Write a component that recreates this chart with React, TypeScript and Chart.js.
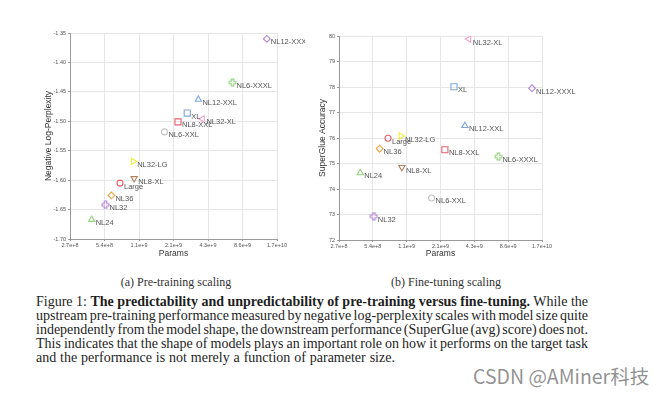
import React, { useEffect, useRef } from 'react';
import { Chart, registerables } from 'chart.js';

Chart.register(...registerables);

// ---------------- data ----------------
const models = ['NL12-XXXL', 'NL6-XXXL', 'NL12-XXL', 'XL', 'NL32-XL', 'NL8-XXL', 'NL6-XXL', 'NL32-LG', 'NL8-XL', 'Large', 'NL36', 'NL32', 'NL24'];
const params = [1.40e10, 7.03e9, 3.54e9, 2.83e9, 3.84e9, 2.35e9, 1.79e9, 9.55e8, 9.74e8, 7.33e8, 6.17e8, 5.48e8, 4.15e8];
const negLogPerplexity = [-1.360, -1.434, -1.463, -1.486, -1.496, -1.501, -1.518, -1.568, -1.597, -1.605, -1.626, -1.642, -1.667];
const superGlueAccuracy = [77.95, 75.27, 76.48, 78.01, 79.88, 75.54, 73.65, 76.08, 74.85, 75.99, 75.58, 72.93, 74.63];

const xTickValues = [268435456, 536870912, 1073741824, 2147483648, 4294967296, 8589934592, 17179869184];
const xTickLabels = ['2.7e+8', '5.4e+8', '1.1e+9', '2.1e+9', '4.3e+9', '8.6e+9', '1.7e+10'];
const perplexityTicks = [-1.70, -1.65, -1.60, -1.55, -1.50, -1.45, -1.40, -1.35];
const accuracyTicks = [72, 73, 74, 75, 76, 77, 78, 79, 80];

// ---------------- styles ----------------
const modelStyle: Record<string, { shape: string; color: string }> = {
  'NL12-XXXL': { shape: 'diamond', color: '#b487d6' },
  'NL6-XXXL': { shape: 'cross', color: '#93d47e' },
  'NL12-XXL': { shape: 'triangle-up', color: '#7ea6de' },
  'XL': { shape: 'square', color: '#7ea6de' },
  'NL32-XL': { shape: 'triangle-left', color: '#f2a4cd' },
  'NL8-XXL': { shape: 'square', color: '#e4606c' },
  'NL6-XXL': { shape: 'circle', color: '#c4c4c4' },
  'NL32-LG': { shape: 'triangle-right', color: '#eeee3a' },
  'NL8-XL': { shape: 'triangle-down', color: '#b3805e' },
  'Large': { shape: 'circle', color: '#e4606c' },
  'NL36': { shape: 'diamond', color: '#f5a445' },
  'NL32': { shape: 'cross', color: '#b487d6' },
  'NL24': { shape: 'triangle-up', color: '#93d47e' },
};

const SANS = '"Liberation Sans", Arial, sans-serif';
const SERIF = '"Liberation Serif", "Times New Roman", serif';

function makeCross(color: string): HTMLCanvasElement {
  const c = document.createElement('canvas');
  c.width = 9;
  c.height = 9;
  const g = c.getContext('2d')!;
  const m = 4.5, w = 1.3, r = 3.4;
  g.strokeStyle = color;
  g.lineWidth = 1.1;
  g.beginPath();
  const pts = [
    [m - w, m - r], [m + w, m - r], [m + w, m - w], [m + r, m - w], [m + r, m + w], [m + w, m + w],
    [m + w, m + r], [m - w, m + r], [m - w, m + w], [m - r, m + w], [m - r, m - w], [m - w, m - w],
  ];
  pts.forEach(([x, y], i) => (i ? g.lineTo(x, y) : g.moveTo(x, y)));
  g.closePath();
  g.stroke();
  return c;
}

function pointProps() {
  const styles: any[] = [];
  const rotations: number[] = [];
  const radii: number[] = [];
  const colors: string[] = [];
  models.forEach((m) => {
    const s = modelStyle[m];
    colors.push(s.color);
    switch (s.shape) {
      case 'diamond': styles.push('rectRot'); rotations.push(0); radii.push(3.4); break;
      case 'cross': styles.push(makeCross(s.color)); rotations.push(0); radii.push(4); break;
      case 'square': styles.push('rect'); rotations.push(0); radii.push(4.3); break;
      case 'circle': styles.push('circle'); rotations.push(0); radii.push(3); break;
      case 'triangle-up': styles.push('triangle'); rotations.push(0); radii.push(3.6); break;
      case 'triangle-down': styles.push('triangle'); rotations.push(180); radii.push(3.6); break;
      case 'triangle-left': styles.push('triangle'); rotations.push(-90); radii.push(3.6); break;
      case 'triangle-right': styles.push('triangle'); rotations.push(90); radii.push(3.6); break;
    }
  });
  return { styles, rotations, radii, colors };
}

const pointLabelPlugin = {
  id: 'pointLabels',
  afterDatasetsDraw(chart: any) {
    const ctx = chart.ctx;
    const meta = chart.getDatasetMeta(0);
    ctx.save();
    ctx.font = `7.5px ${SANS}`;
    ctx.fillStyle = '#555';
    ctx.textBaseline = 'middle';
    ctx.textAlign = 'left';
    meta.data.forEach((el: any, i: number) => {
      ctx.fillText(models[i], el.x + 4, el.y + 3.5);
    });
    ctx.restore();
  },
};

interface Cfg {
  yValues: number[];
  yTicks: number[];
  yFormat: (v: number) => string;
  yTitle: string;
  yWidth: number;
  yTitlePad: number;
  xHeight: number;
  padTop: number;
  padRight: number;
}

function buildChart(canvas: HTMLCanvasElement, cfg: Cfg) {
  const p = pointProps();
  return new Chart(canvas, {
    type: 'scatter',
    data: {
      datasets: [
        {
          data: models.map((_, i) => ({ x: params[i], y: cfg.yValues[i] })),
          pointStyle: p.styles,
          pointRotation: p.rotations,
          pointRadius: p.radii,
          pointBorderColor: p.colors,
          pointBackgroundColor: 'rgba(0,0,0,0)',
          pointBorderWidth: 1.1,
          showLine: false,
        } as any,
      ],
    },
    options: {
      animation: false,
      responsive: false,
      devicePixelRatio: 1,
      layout: { padding: { left: 0, top: cfg.padTop, right: cfg.padRight, bottom: 0 } },
      plugins: { legend: { display: false }, tooltip: { enabled: false } },
      scales: {
        x: {
          type: 'logarithmic',
          min: xTickValues[0],
          max: xTickValues[xTickValues.length - 1],
          afterBuildTicks: (s: any) => {
            s.ticks = xTickValues.map((v) => ({ value: v }));
          },
          afterFit: (s: any) => {
            s.height = cfg.xHeight;
          },
          ticks: {
            callback: (_v: any, i: number) => xTickLabels[i],
            font: { size: 5.5, family: SANS },
            color: '#555',
            padding: 1,
            autoSkip: false,
            maxRotation: 0,
            minRotation: 0,
          },
          grid: { color: '#e6e6e6', tickColor: '#999', tickLength: 2, lineWidth: 1 },
          border: { color: '#999', width: 1 },
          title: {
            display: true,
            text: 'Params',
            font: { size: 8.5, family: SANS },
            color: '#333',
            padding: { top: 0, bottom: 6.9 },
          },
        },
        y: {
          type: 'linear',
          min: cfg.yTicks[0],
          max: cfg.yTicks[cfg.yTicks.length - 1],
          afterBuildTicks: (s: any) => {
            s.ticks = cfg.yTicks.map((v) => ({ value: v }));
          },
          afterFit: (s: any) => {
            s.width = cfg.yWidth;
          },
          ticks: {
            callback: (v: any) => cfg.yFormat(Number(v)),
            font: { size: 5.5, family: SANS },
            color: '#555',
            padding: 2,
            autoSkip: false,
          },
          grid: { color: '#e6e6e6', tickColor: '#999', tickLength: 2, lineWidth: 1 },
          border: { color: '#999', width: 1 },
          title: {
            display: true,
            text: cfg.yTitle,
            font: { size: 8.5, family: SANS },
            color: '#333',
            padding: { top: cfg.yTitlePad, bottom: 0 },
          },
        },
      },
    } as any,
    plugins: [pointLabelPlugin],
  });
}

const captionLines: { parts: { text: string; bold?: boolean }[]; last?: boolean }[] = [
  { parts: [{ text: 'Figure 1: ' }, { text: 'The predictability and unpredictability of pre-training versus fine-tuning.', bold: true }, { text: ' While the' }] },
  { parts: [{ text: 'upstream pre-training performance measured by negative log-perplexity scales with model size quite' }] },
  { parts: [{ text: 'independently from the model shape, the downstream performance (SuperGlue (avg) score) does not.' }] },
  { parts: [{ text: 'This indicates that the shape of models plays an important role on how it performs on the target task' }] },
  { parts: [{ text: 'and the performance is not merely a function of parameter size.' }], last: true },
];

export default function App() {
  const leftRef = useRef<HTMLCanvasElement>(null);
  const rightRef = useRef<HTMLCanvasElement>(null);

  useEffect(() => {
    const a = buildChart(leftRef.current!, {
      yValues: negLogPerplexity,
      yTicks: perplexityTicks,
      yFormat: (v) => v.toFixed(2),
      yTitle: 'Negative Log-Perplexity',
      yWidth: 40,
      yTitlePad: 13.9,
      xHeight: 27,
      padTop: 7,
      padRight: 28,
    });
    const b = buildChart(rightRef.current!, {
      yValues: superGlueAccuracy,
      yTicks: accuracyTicks,
      yFormat: (v) => String(Math.round(v)),
      yTitle: 'SuperGlue Accuracy',
      yWidth: 39,
      yTitlePad: 17.5,
      xHeight: 26,
      padTop: 10,
      padRight: 48,
    });
    return () => {
      a.destroy();
      b.destroy();
    };
  }, []);

  return (
    <div style={{ position: 'fixed', left: 0, top: 0, width: 666, height: 394, background: '#fff', overflow: 'hidden' }}>
      <canvas ref={leftRef} width={275} height={240} style={{ position: 'absolute', left: 30, top: 26 }} />
      <canvas ref={rightRef} width={290} height={240} style={{ position: 'absolute', left: 300, top: 26 }} />
      <div style={{ position: 'absolute', left: 76, width: 200, top: 275, textAlign: 'center', font: `12px ${SERIF}`, color: '#333', lineHeight: '15px' }}>
        (a) Pre-training scaling
      </div>
      <div style={{ position: 'absolute', left: 346, width: 200, top: 275, textAlign: 'center', font: `12px ${SERIF}`, color: '#333', lineHeight: '15px' }}>
        (b) Fine-tuning scaling
      </div>
      <div style={{ position: 'absolute', left: 36, top: 295, width: 552, font: `14px ${SERIF}`, color: '#1e1e1e', lineHeight: '14px' }}>
        {captionLines.map((ln, i) => (
          <div
            key={i}
            style={{
              textAlign: 'justify',
              textAlignLast: ln.last ? 'left' : 'justify',
              whiteSpace: 'nowrap',
              wordSpacing: ln.last ? '0.4px' : '-1.5px',
              height: 14,
            } as any}
          >
            {ln.parts.map((p, j) => (
              <span key={j} style={{ fontWeight: p.bold ? 'bold' : 'normal' }}>{p.text}</span>
            ))}
          </div>
        ))}
      </div>
      <div style={{ position: 'absolute', left: 473, top: 363, font: `19.5px "Noto Sans CJK SC", "Noto Sans", sans-serif`, color: 'rgba(110,110,110,0.75)', lineHeight: '26px', whiteSpace: 'nowrap' }}>
        CSDN @AMiner科技
      </div>
    </div>
  );
}
